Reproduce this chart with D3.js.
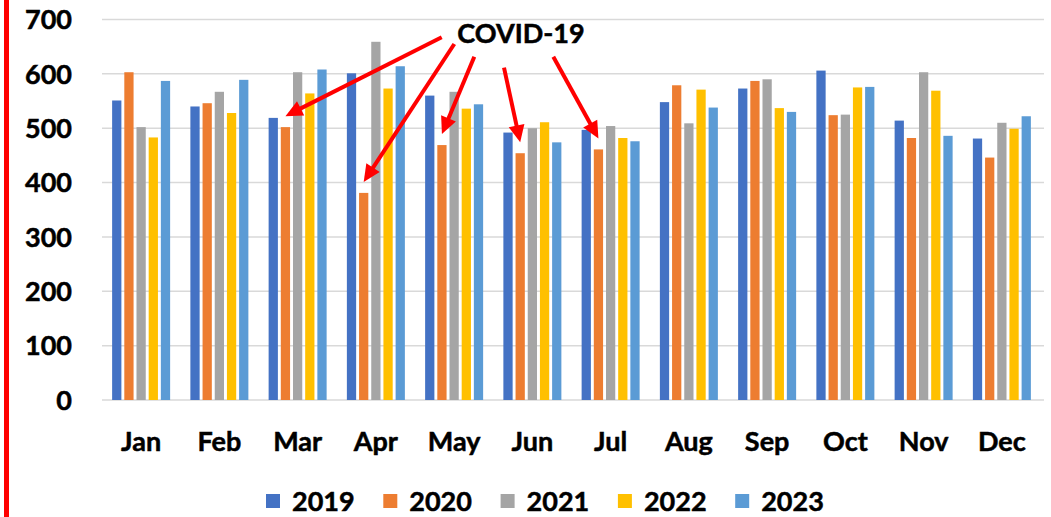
<!DOCTYPE html>
<html>
<head>
<meta charset="utf-8">
<script src="https://cdn.jsdelivr.net/npm/d3@7/dist/d3.min.js"></script>
<style>
  html, body { margin: 0; padding: 0; background: #fff; }
  svg { display: block; }
  text { font-family: Lato, "Open Sans", sans-serif; font-weight: 700; fill: #000; stroke: #000; stroke-width: 0.5px; }
</style>
</head>
<body>
<svg id="chart" width="1051" height="517"></svg>
<script>
// ---- data ----
const months = ["Jan","Feb","Mar","Apr","May","Jun","Jul","Aug","Sep","Oct","Nov","Dec"];
const years = ["2019","2020","2021","2022","2023"];
const v2019 = [551, 540, 519, 601, 560, 492, 497, 548, 573, 606, 514, 481];
const v2020 = [603, 546, 502, 381, 469, 454, 461, 579, 587, 524, 482, 446];
const v2021 = [502, 567, 603, 659, 567, 500, 504, 509, 590, 525, 603, 510];
const v2022 = [483, 528, 564, 573, 536, 511, 482, 571, 537, 575, 569, 499];
const v2023 = [587, 589, 608, 614, 544, 474, 476, 538, 530, 576, 486, 522];
const yTicks = [0, 100, 200, 300, 400, 500, 600, 700];
const annotationText = "COVID-19";
const annotatedMonths = ["Mar", "Apr", "May", "Jun", "Jul"];
const annotatedYear = "2020";

const seriesValues = [v2019, v2020, v2021, v2022, v2023];
const colors = ["#4472C4", "#ED7D31", "#A5A5A5", "#FFC000", "#5B9BD5"];

// ---- layout ----
const svg = d3.select("#chart");
const W = 1051, H = 517;
const plot = { left: 102, right: 1041, top: 19.5, bottom: 400 };

const x0 = d3.scaleBand().domain(months).range([plot.left, plot.right]).paddingInner(0).paddingOuter(0);
const bw = x0.bandwidth();
const x1 = d3.scaleBand().domain(years).range([bw / 2 - 29, bw / 2 + 29]).paddingInner(0.24).paddingOuter(0);
const y = d3.scaleLinear().domain([0, 700]).range([plot.bottom, plot.top]);

// red left border
svg.append("rect").attr("x", 4).attr("y", 0).attr("width", 5).attr("height", H).attr("fill", "#FF0000");

// gridlines
svg.append("g").selectAll("line").data(yTicks).join("line")
  .attr("x1", plot.left).attr("x2", plot.right + 3)
  .attr("y1", d => y(d)).attr("y2", d => y(d))
  .attr("stroke", "#D9D9D9").attr("stroke-width", 1.5);

// y axis labels
svg.append("g").selectAll("text").data(yTicks).join("text")
  .attr("x", 72).attr("y", d => y(d)).attr("dy", "0.36em")
  .attr("text-anchor", "end").attr("font-size", 27)
  .text(d => d);

// bars
const flat = [];
months.forEach((m, i) => years.forEach((yr, j) => flat.push({ month: m, year: yr, value: seriesValues[j][i], color: colors[j] })));
svg.append("g").selectAll("rect").data(flat).join("rect")
  .attr("x", d => x0(d.month) + x1(d.year))
  .attr("width", x1.bandwidth())
  .attr("y", d => y(d.value))
  .attr("height", d => y(0) - y(d.value))
  .attr("fill", d => d.color);

// x axis labels
svg.append("g").selectAll("text").data(months).join("text")
  .attr("x", d => x0(d) + bw / 2).attr("y", 451)
  .attr("text-anchor", "middle").attr("font-size", 27)
  .text(d => d);

// legend
const legendX0 = 266, legendStep = 117.3;
const lg = svg.append("g").selectAll("g").data(years).join("g")
  .attr("transform", (d, i) => `translate(${legendX0 + i * legendStep},0)`);
lg.append("rect").attr("x", 0).attr("y", 494).attr("width", 14).attr("height", 14)
  .attr("fill", (d, i) => colors[i]);
lg.append("text").attr("x", 26).attr("y", 511).attr("font-size", 27).text(d => d);

// annotation
svg.append("text").attr("x", 521).attr("y", 43).attr("text-anchor", "middle")
  .attr("font-size", 27).text(annotationText);

const tails = [[441.7, 37.3], [454.3, 44], [474.3, 56.7], [504, 67.7], [553.3, 56.7]];
const yi = years.indexOf(annotatedYear);
const arrows = annotatedMonths.map((m, k) => {
  const mi = months.indexOf(m);
  const tx = x0(m) + x1(annotatedYear) + x1.bandwidth() / 2;
  const ty = y(seriesValues[yi][mi]) - 11;
  return { sx: tails[k][0], sy: tails[k][1], tx, ty };
});
const ag = svg.append("g");
const headLen = 17, headHalf = 8;
arrows.forEach(a => {
  const dx = a.tx - a.sx, dy = a.ty - a.sy;
  const L = Math.hypot(dx, dy);
  const ux = dx / L, uy = dy / L;
  const bx = a.tx - ux * headLen, by = a.ty - uy * headLen;
  ag.append("line").attr("x1", a.sx).attr("y1", a.sy).attr("x2", bx + ux * 2).attr("y2", by + uy * 2)
    .attr("stroke", "#FF0000").attr("stroke-width", 4);
  const px = -uy, py = ux;
  ag.append("polygon")
    .attr("points", [[a.tx, a.ty], [bx + px * headHalf, by + py * headHalf], [bx - px * headHalf, by - py * headHalf]].map(p => p.join(",")).join(" "))
    .attr("fill", "#FF0000");
});
</script>
</body>
</html>
